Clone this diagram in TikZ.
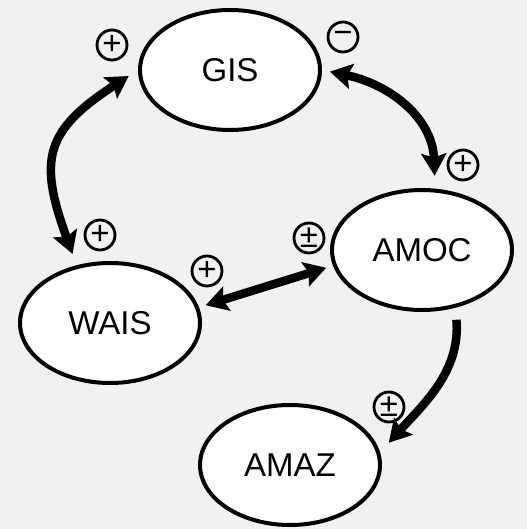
\documentclass[tikz,border=0pt]{standalone}
\usepackage{fontspec}
\setmainfont{Liberation Sans}
\usepackage{xcolor}
\usetikzlibrary{shapes.geometric,arrows.meta}
\definecolor{page-grey}{RGB}{241,241,241}
\tikzset{
    system-box/.style = {draw=black, fill=white, line width=4pt, ellipse, minimum width=180pt, minimum height=120pt, inner sep=0pt, font=\fontsize{33}{36}\selectfont},
    sign-box/.style = {draw=black, line width=2.8pt, circle, minimum size=30pt, inner sep=0pt, font=\fontsize{33}{33}\selectfont},
    link/.style = {line width=8.5pt, -{Stealth[length=22pt, width=25pt, inset=4pt]}},
    two-way-link/.style = {line width=8.5pt, {Stealth[length=22pt, width=25pt, inset=4pt]}-{Stealth[length=22pt, width=25pt, inset=4pt]}},
}

\begin{document}
\begin{tikzpicture}[x=1pt,y=1pt]
\useasboundingbox[fill=page-grey] (0,0) rectangle (527,-529);
\node[system-box] (gis) at (230,-70) {GIS};
\node[system-box] (amoc) at (422,-250) {AMOC};
\node[system-box] (wais) at (110,-323) {WAIS};
\node[system-box] (amaz) at (290,-465) {AMAZ};
\node[sign-box] (gis-plus) at (112,-45) {+};
\node[sign-box] (gis-minus) at (343,-37) {−};
\node[sign-box] (amoc-plus) at (463,-165) {+};
\node[sign-box] (wais-top-plus) at (100,-235) {+};
\node[sign-box] (amoc-pm) at (309,-238) {±};
\node[sign-box] (wais-side-plus) at (207,-271) {+};
\node[sign-box] (amaz-pm) at (389,-407) {±};
\draw[two-way-link, shorten <=11pt, shorten >=12pt] (gis.west) to[out=213, in=110, looseness=1.4] (wais.120);
\draw[two-way-link, shorten <=8pt, shorten >=13pt] (gis.east) to[out=-12, in=92, looseness=1.1] (amoc.78);
\draw[two-way-link, shorten <=7pt, shorten >=7pt] (wais.10) -- (amoc.190);
\draw[link, shorten <=12pt, shorten >=13pt] (amoc.-60) to[out=-85, in=48] (amaz.8);
\end{tikzpicture}
\end{document}
